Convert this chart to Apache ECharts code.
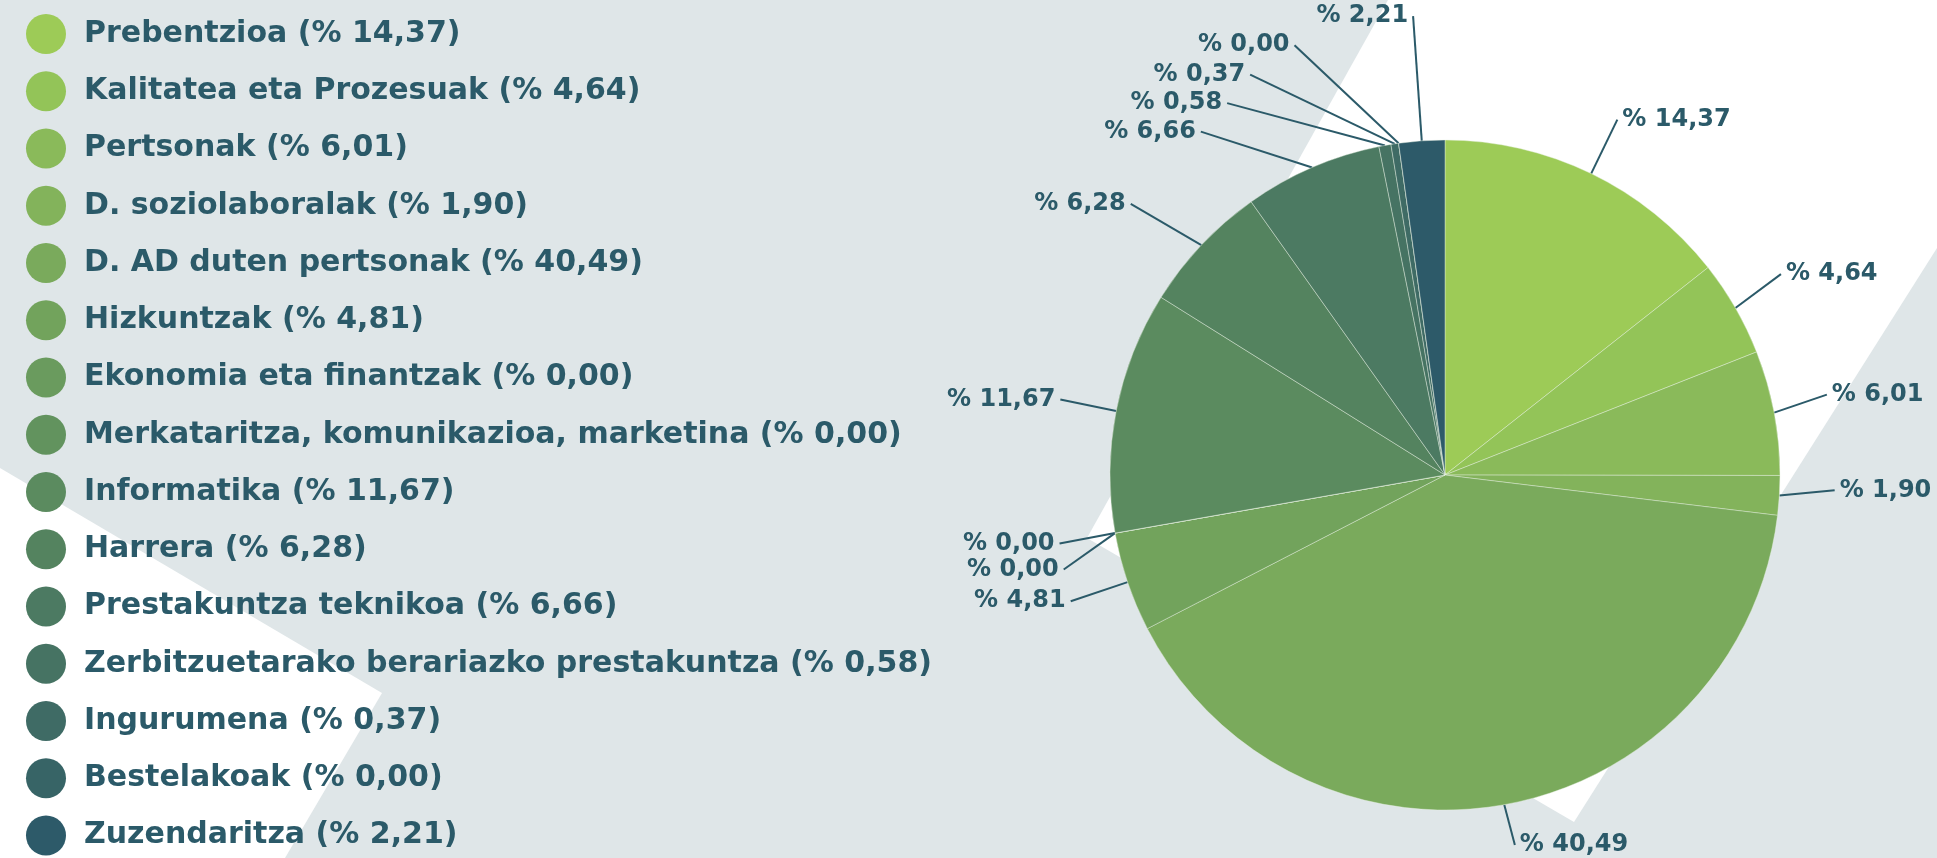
<!DOCTYPE html>
<html>
<head>
<meta charset="utf-8">
<script src="https://cdn.jsdelivr.net/npm/echarts@6/dist/echarts.min.js"></script>
<style>
  html, body { margin: 0; padding: 0; background: #dfe6e8; }
  #chart { width: 1937px; height: 858px; }
</style>
</head>
<body>
<div id="chart"></div>
<script>
const categories = [
    'Prebentzioa',
    'Kalitatea eta Prozesuak',
    'Pertsonak',
    'D. soziolaboralak',
    'D. AD duten pertsonak',
    'Hizkuntzak',
    'Ekonomia eta finantzak',
    'Merkataritza, komunikazioa, marketina',
    'Informatika',
    'Harrera',
    'Prestakuntza teknikoa',
    'Zerbitzuetarako berariazko prestakuntza',
    'Ingurumena',
    'Bestelakoak',
    'Zuzendaritza'
]
const shares = [14.37, 4.64, 6.01, 1.90, 40.49, 4.81, 0.00, 0.00, 11.67, 6.28, 6.66, 0.58, 0.37, 0.00, 2.21]

const sliceColors = [
    '#9dcb57', '#93c458', '#8aba5a', '#83b35b', '#7aaa5c',
    '#72a35c', '#6a9b5e', '#62935e', '#5b8b5f', '#54835f',
    '#4c7a62', '#467363', '#3f6b65', '#376466', '#2d5a69'
]
// label line length per slice, longer ones fan out the crowded top labels
const lineLengths = [60, 60, 60, 60, 60, 60, 60, 60, 60, 60, 39, 43, 70, 99, 125]
const textColor = '#2b5a69'

function fmt(v) {
    return v.toFixed(2).replace('.', ',')
}

const myChart = echarts.init(document.getElementById('chart'))

const option = {
    backgroundColor: '#dfe6e8',
    animation: false,
    color: sliceColors,
    graphic: [
        // white decorative shapes behind the chart
        {
            type: 'polygon',
            z: -10,
            silent: true,
            shape: { points: [[0, 468], [382, 693], [285, 858], [0, 858]] },
            style: { fill: '#ffffff' }
        },
        {
            type: 'polygon',
            z: -10,
            silent: true,
            shape: { points: [[1388, 0], [1937, 0], [1937, 248], [1574, 822], [1087, 538]] },
            style: { fill: '#ffffff' }
        }
    ],
    legend: {
        orient: 'vertical',
        left: 26,
        top: 14,
        padding: 0,
        itemWidth: 40,
        itemHeight: 40,
        itemGap: 17.25,
        icon: 'circle',
        selectedMode: false,
        itemStyle: {
            borderWidth: 0
        },
        textStyle: {
            fontFamily: 'DejaVu Sans',
            fontWeight: 'bold',
            fontSize: 30,
            lineHeight: 40,
            color: textColor,
            padding: [0, 0, 0, 13]
        },
        formatter: function (name) {
            const i = categories.indexOf(name)
            return name + ' (% ' + fmt(shares[i]) + ')'
        },
        data: categories
    },
    series: [
        {
            type: 'pie',
            left: 0,
            right: -100,
            center: [1445, 475],
            radius: 335,
            startAngle: 90,
            clockwise: true,
            avoidLabelOverlap: true,
            itemStyle: {
                borderColor: 'rgba(230,240,225,0.7)',
                borderWidth: 0.6
            },
            emphasis: { disabled: true },
            label: {
                show: true,
                position: 'outside',
                fontFamily: 'DejaVu Sans',
                fontWeight: 'bold',
                fontSize: 24,
                color: textColor,
                bleedMargin: 0,
                formatter: function (p) {
                    return '% ' + fmt(p.value)
                }
            },
            labelLine: {
                show: true,
                length: 60,
                length2: 0,
                lineStyle: {
                    color: textColor,
                    width: 2
                }
            },
            data: categories.map((name, i) => {
                return {
                    name: name,
                    value: shares[i],
                    labelLine: { length: lineLengths[i] }
                }
            })
        }
    ]
}

myChart.setOption(option)
</script>
</body>
</html>
